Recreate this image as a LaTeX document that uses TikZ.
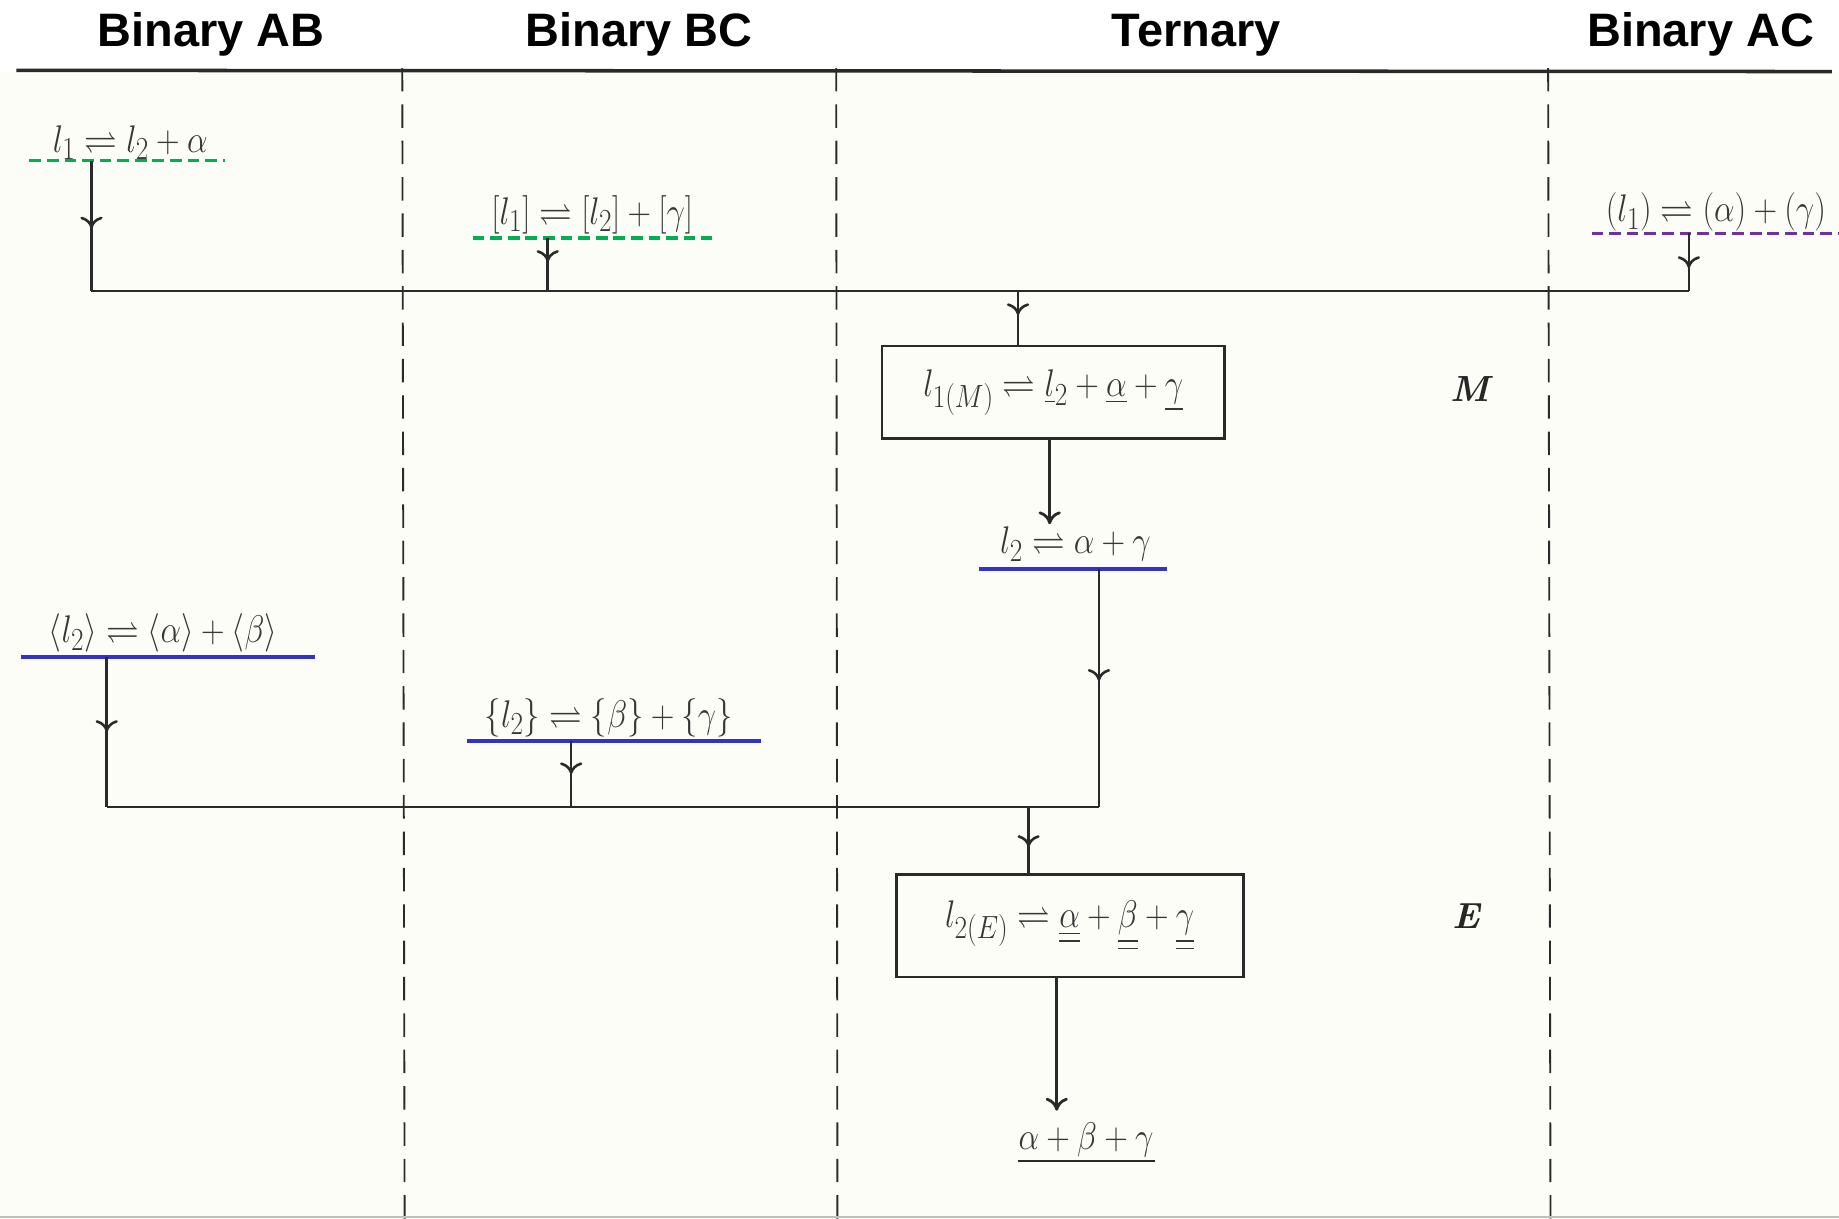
\documentclass[tikz,border=0pt]{standalone}
\usepackage{amsmath}
\usepackage{amssymb}
\usepackage{graphicx}
\usepackage{fontspec}
\newfontfamily\headfont{Liberation Sans}
\newcommand{\bm}[1]{\scalebox{1.12}[1.32]{$#1$}}
\usetikzlibrary{arrows.meta,decorations.markings}
\definecolor{ink}{HTML}{383838}
\definecolor{linec}{HTML}{2A2A2A}
\definecolor{ugreen}{HTML}{00B050}
\definecolor{upurple}{HTML}{7030A0}
\definecolor{ublue}{HTML}{3333CC}
\definecolor{paper}{HTML}{FDFDF8}
\begin{document}
\begin{tikzpicture}[x=1pt,y=-1pt,
  head/.style={font=\headfont\bfseries\fontsize{40}{46}\selectfont, anchor=base, inner sep=0pt},
  eq/.style={font=\Huge, text=ink, anchor=base, inner sep=0pt},
  conn/.style={draw=linec, line width=2.2pt},
  tipend/.style={-{Computer Modern Rightarrow[length=11pt,width=19pt,line width=2.4pt]}},
  midto/.style={postaction={decorate}, decoration={markings, mark=at position #1 with {\arrow{Computer Modern Rightarrow[length=10pt,width=19pt,line width=2.2pt]}}}},
  sepline/.style={draw=linec, line width=1.6pt, dash pattern=on 20pt off 11pt},
  eqbox/.style={draw=linec, line width=2.5pt, inner sep=0pt, font=\Huge, text=ink},
  greenu/.style={draw=ugreen, line width=3pt, dash pattern=on 10pt off 5pt},
  purpleu/.style={draw=upurple, line width=3pt, dash pattern=on 10pt off 5pt},
  blueu/.style={draw=ublue, line width=3.5pt},
  blacku/.style={draw=linec, line width=1.8pt},
  phase/.style={font=\fontsize{31}{36}\selectfont\bfseries\itshape, text=ink!70!black, inner sep=0pt}
]
\useasboundingbox (0,0) rectangle (1568,1039);
\fill[white] (0,0) rectangle (1568,61);
\fill[paper] (0,61) rectangle (1568,1039);

% headers
\node[head] (hAB) at (180,40) {Binary AB};
\node[head] (hBC) at (545,40) {Binary BC};
\node[head] (hT)  at (1020,40) {Ternary};
\node[head] (hAC) at (1450,40) {Binary AC};

% frame lines
\coordinate (tl) at (14,60);
\coordinate (tr) at (1562,61);
\draw[draw=linec, line width=3pt] (tl) -- (tr);
\coordinate (s1t) at (343,58); \coordinate (s1b) at (345,1039);
\coordinate (s2t) at (713,58); \coordinate (s2b) at (714,1039);
\coordinate (s3t) at (1320,58); \coordinate (s3b) at (1322,1039);
\draw[sepline] (s1t) -- (s1b);
\draw[sepline] (s2t) -- (s2b);
\draw[sepline] (s3t) -- (s3b);
\coordinate (bl) at (0,1037.5); \coordinate (br) at (1568,1037.5);
\draw[black!25, line width=1.2pt] (bl) -- (br);

% liquidus equations (top)
\node[eq] (e1) at (111,130) {\bm{l_1\rightleftharpoons l_2+\alpha}};
\coordinate (e1a) at (25,137); \coordinate (e1b) at (192,137);
\draw[greenu] (e1a) -- (e1b);

\node[eq] (e2) at (505,191) {\bm{[l_1]\rightleftharpoons[l_2]+[\gamma]}};
\coordinate (e2a) at (403,203); \coordinate (e2b) at (607,203);
\draw[greenu] (e2a) -- (e2b);

\node[eq] (e3) at (1463,189) {\bm{(l_1)\rightleftharpoons(\alpha)+(\gamma)}};
\coordinate (e3a) at (1357,199); \coordinate (e3b) at (1568,199);
\draw[purpleu] (e3a) -- (e3b);

% first junction
\coordinate (u1) at (78,137);   \coordinate (j1) at (78,248);
\coordinate (u2) at (467,203);  \coordinate (j2) at (467,248);
\coordinate (u3) at (1440,199); \coordinate (j3) at (1440,248);
\coordinate (j4) at (868,248);
\draw[conn, midto=0.52] (u1) -- (j1);
\draw[conn, midto=0.45] (u2) -- (j2);
\draw[conn, midto=0.6] (u3) -- (j3);
\draw[conn] (j1) -- (j3);

% M box
\node[eqbox, minimum width=292pt, minimum height=79pt] (boxM) at (898,334.5)
  {\bm{l_{1(M)}\rightleftharpoons \underline{l}_2+\underline{\alpha}+\underline{\gamma}}};
\draw[conn, midto=0.45] (j4) -- (j4 |- boxM.north);
\node[phase] (lblM) at (1253,332) {M};

\node[eq] (e4) at (917,472) {\bm{l_2\rightleftharpoons\alpha+\gamma}};
\coordinate (e4a) at (835,485); \coordinate (e4b) at (995,485);
\draw[blueu] (e4a) -- (e4b);
\coordinate (m1) at (895,374); \coordinate (m2) at (895,447);
\draw[conn, tipend] (m1) -- (m2);

% eutectic equations
\node[eq] (e5) at (139,548) {\bm{\langle l_2\rangle\rightleftharpoons\langle\alpha\rangle+\langle\beta\rangle}};
\coordinate (e5a) at (18,560); \coordinate (e5b) at (269,560);
\draw[blueu] (e5a) -- (e5b);

\node[eq] (e6) at (519,620) {\bm{\{l_2\}\rightleftharpoons\{\beta\}+\{\gamma\}}};
\coordinate (e6a) at (398,632); \coordinate (e6b) at (649,632);
\draw[blueu] (e6a) -- (e6b);

% second junction
\coordinate (u4) at (937,485); \coordinate (k4) at (937,688);
\coordinate (u5) at (91,560);  \coordinate (k5) at (91,688);
\coordinate (u6) at (487,632); \coordinate (k6) at (487,688);
\coordinate (k7) at (877,688);
\draw[conn, midto=0.47] (u4) -- (k4);
\draw[conn, midto=0.5] (u5) -- (k5);
\draw[conn, midto=0.5] (u6) -- (k6);
\draw[conn] (k5) -- (k4);

% E box
\node[eqbox, minimum width=296pt, minimum height=87pt] (boxE) at (912,789.5)
  {\bm{l_{2(E)}\rightleftharpoons \underline{\underline{\alpha}}+\underline{\underline{\beta}}+\underline{\underline{\gamma}}}};
\draw[conn, midto=0.6] (k7) -- (k7 |- boxE.north);
\node[phase] (lblE) at (1250,781) {E};

\node[eq] (e7) at (926,980) {\bm{\alpha+\beta+\gamma}};
\coordinate (e7a) at (868,990); \coordinate (e7b) at (985,990);
\draw[blacku] (e7a) -- (e7b);
\coordinate (n1) at (901,833); \coordinate (n2) at (901,947);
\draw[conn, tipend] (n1) -- (n2);
\end{tikzpicture}
\end{document}
